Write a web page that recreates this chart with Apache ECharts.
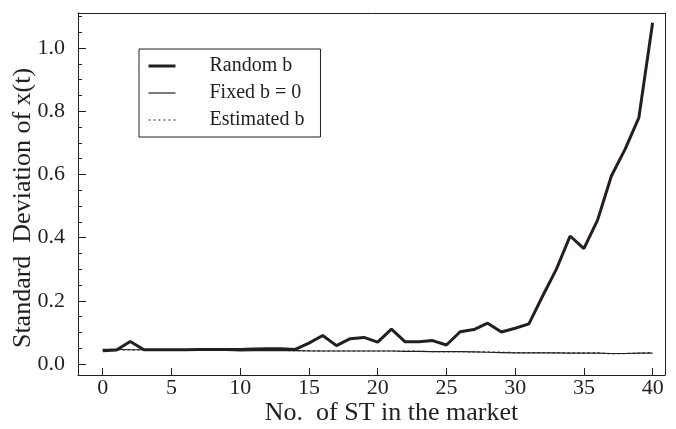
<!DOCTYPE html>
<html>
<head>
<meta charset="utf-8">
<script src="https://cdn.jsdelivr.net/npm/echarts@6/dist/echarts.min.js"></script>
<style>html,body{margin:0;padding:0;background:#fff}#c{width:676px;height:429px}</style>
</head>
<body>
<div id="c"></div>
<script>
var xValues = [0,1,2,3,4,5,6,7,8,9,10,11,12,13,14,15,16,17,18,19,20,21,22,23,24,25,26,27,28,29,30,31,32,33,34,35,36,37,38,39,40];
var randomB = [0.042,0.044,0.071,0.045,0.045,0.045,0.045,0.046,0.046,0.046,0.046,0.047,0.048,0.048,0.046,0.066,0.090,0.058,0.080,0.084,0.069,0.110,0.070,0.070,0.074,0.060,0.102,0.109,0.129,0.101,0.113,0.127,0.215,0.300,0.405,0.365,0.456,0.595,0.680,0.780,1.080];
var fixedB0 = [0.046,0.046,0.045,0.045,0.044,0.044,0.044,0.044,0.044,0.043,0.041,0.042,0.043,0.042,0.042,0.041,0.041,0.041,0.041,0.041,0.041,0.041,0.040,0.040,0.039,0.039,0.039,0.038,0.037,0.036,0.035,0.035,0.035,0.035,0.034,0.034,0.034,0.033,0.033,0.034,0.034];
var estimatedB = [0.043,0.044,0.045,0.044,0.044,0.044,0.044,0.045,0.044,0.044,0.043,0.043,0.043,0.043,0.042,0.042,0.041,0.041,0.041,0.041,0.041,0.041,0.041,0.040,0.039,0.039,0.039,0.038,0.038,0.037,0.036,0.036,0.036,0.035,0.035,0.035,0.035,0.032,0.033,0.034,0.036];
var xTicks = [0,5,10,15,20,25,30,35,40];
var yTicks = [0,0.2,0.4,0.6,0.8,1.0];
var yMinorTicks = [0.05,0.1,0.15,0.25,0.3,0.35,0.45,0.5,0.55,0.65,0.7,0.75,0.85,0.9,0.95,1.05,1.1];

function pairs(ys){ return xValues.map(function(x,i){return [x, ys[i]];}); }

var FONT = 'Liberation Serif, Times New Roman, serif';
var INK = '#231f20';
var X_MIN = -1.8, X_MAX = 40.9, Y_MIN = -0.035, Y_MAX = 1.111;

function frameAxis(kind, pos){
  return {
    type:'value', min: kind==='x'?X_MIN:Y_MIN, max: kind==='x'?X_MAX:Y_MAX, position:pos,
    axisLine:{show:true, onZero:false, lineStyle:{color:INK, width:1}},
    axisTick:{show:false}, axisLabel:{show:false}, splitLine:{show:false}
  };
}

var chart = echarts.init(document.getElementById('c'), null, {renderer:'canvas'});
chart.setOption({
  animation:false,
  backgroundColor:'#fff',
  grid:{left:78, right:11, top:13, bottom:54, show:false, outerBoundsMode:'none'},
  legend:{
    orient:'vertical', left:139, top:49,
    borderColor:INK, borderWidth:1, borderRadius:0,
    padding:[7,16,7,8],
    itemWidth:27, itemHeight:14, itemGap:7,
    itemStyle:{color:'transparent', borderWidth:0, opacity:0},
    textStyle:{fontFamily:FONT, fontSize:20, color:INK, padding:[0,0,0,29]},
    data:[
      {name:'Random b', lineStyle:{width:3, color:INK}},
      {name:'Fixed b = 0', lineStyle:{width:1.2, color:INK}},
      {name:'Estimated b', lineStyle:{width:1.2, color:INK, type:[2,3]}}
    ]
  },
  xAxis:[{
    type:'value', min:X_MIN, max:X_MAX, position:'bottom',
    name:'No.  of ST in the market', nameLocation:'middle', nameGap:25, nameMoveOverlap:false,
    nameTextStyle:{fontFamily:FONT, fontSize:26, color:INK, padding:[0,0,0,40]},
    axisLine:{show:true, onZero:false, lineStyle:{color:INK, width:1}},
    axisTick:{show:true, inside:true, length:7, customValues:xTicks, lineStyle:{color:INK, width:1}},
    axisLabel:{show:true, customValues:xTicks, margin:2, fontFamily:FONT, fontSize:22, color:INK},
    splitLine:{show:false}
  }, frameAxis('x','top')],
  yAxis:[{
    type:'value', min:Y_MIN, max:Y_MAX, position:'left',
    name:'Standard  Deviation of x(t)', nameLocation:'middle', nameGap:42, nameRotate:90, nameMoveOverlap:false,
    nameTextStyle:{fontFamily:FONT, fontSize:26, color:INK, padding:[0,28,0,0]},
    axisLine:{show:true, onZero:false, lineStyle:{color:INK, width:1}},
    axisTick:{show:true, inside:true, length:8, customValues:yTicks, lineStyle:{color:INK, width:1}},
    axisLabel:{show:true, customValues:yTicks, margin:13, fontFamily:FONT, fontSize:22, color:INK,
      formatter:function(v){return v.toFixed(1);}},
    splitLine:{show:false}
  },{
    type:'value', min:Y_MIN, max:Y_MAX, position:'left',
    axisLine:{show:true, onZero:false, lineStyle:{color:INK, width:1}},
    axisTick:{show:true, inside:true, length:4, customValues:yMinorTicks, lineStyle:{color:INK, width:1}},
    axisLabel:{show:false},
    splitLine:{show:false}
  }, frameAxis('y','right')],
  series:[
    {name:'Fixed b = 0', type:'line', data:pairs(fixedB0), symbol:'none', lineStyle:{color:INK, width:1.2}, itemStyle:{color:INK}, z:2},
    {name:'Estimated b', type:'line', data:pairs(estimatedB), symbol:'none', lineStyle:{color:INK, width:1.2, type:[2,3]}, itemStyle:{color:INK}, z:3},
    {name:'Random b', type:'line', data:pairs(randomB), symbol:'none', lineStyle:{color:INK, width:3}, itemStyle:{color:INK}, z:4}
  ]
});
</script>
</body>
</html>
